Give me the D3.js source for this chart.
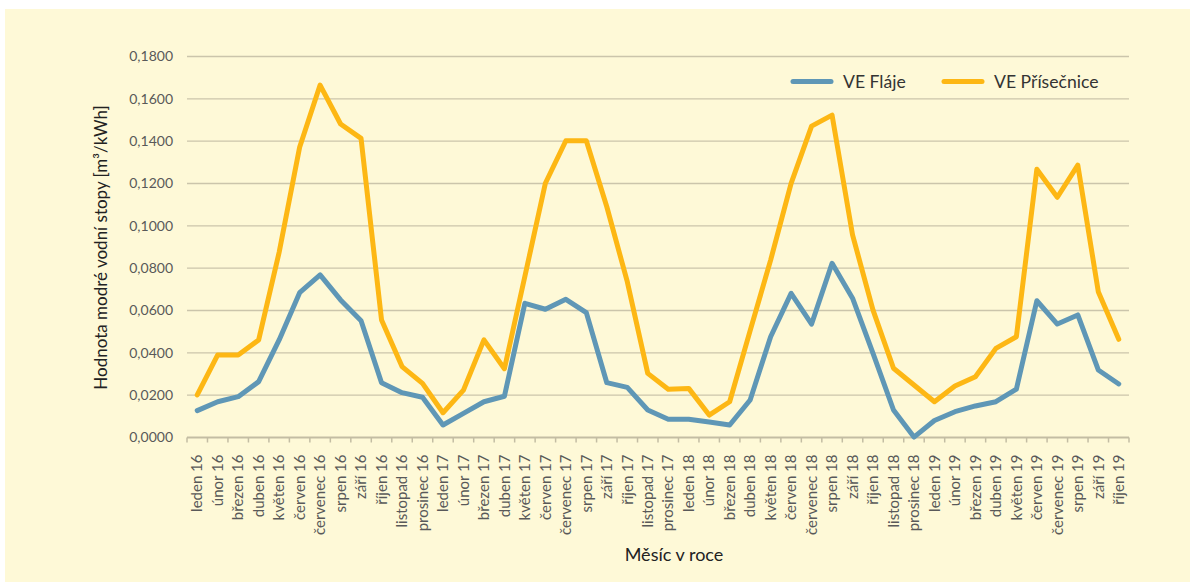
<!DOCTYPE html>
<html lang="cs">
<head>
<meta charset="utf-8">
<script src="https://cdn.jsdelivr.net/npm/d3@7"></script>
<style>
  html, body { margin: 0; padding: 0; background: #ffffff; }
  svg { display: block; font-family: Lato, "Noto Sans", sans-serif; }
</style>
</head>
<body>
<svg id="chart" width="1195" height="586"></svg>
<script>
// Měsíce sledovaného období (leden 2016 – říjen 2019)
const months = [
  "leden 16","únor 16","březen 16","duben 16","květen 16","červen 16","červenec 16","srpen 16","září 16","říjen 16","listopad 16","prosinec 16",
  "leden 17","únor 17","březen 17","duben 17","květen 17","červen 17","červenec 17","srpen 17","září 17","říjen 17","listopad 17","prosinec 17",
  "leden 18","únor 18","březen 18","duben 18","květen 18","červen 18","červenec 18","srpen 18","září 18","říjen 18","listopad 18","prosinec 18",
  "leden 19","únor 19","březen 19","duben 19","květen 19","červen 19","červenec 19","srpen 19","září 19","říjen 19"
];

// Modrá vodní stopa [m³/kWh]
const flaje = [
  0.0127, 0.0169, 0.0193, 0.0264, 0.0461, 0.0684, 0.0768, 0.0650, 0.0552, 0.0259, 0.0212, 0.0190,
  0.0059, 0.0114, 0.0169, 0.0195, 0.0634, 0.0606, 0.0653, 0.0590, 0.0259, 0.0237, 0.0130, 0.0086,
  0.0086, 0.0073, 0.0059, 0.0177, 0.0476, 0.0681, 0.0536, 0.0823, 0.0658, 0.0398, 0.0130, 0.0002,
  0.0080, 0.0122, 0.0149, 0.0169, 0.0228, 0.0646, 0.0536, 0.0579, 0.0319, 0.0253
];
const prisecnice = [
  0.0201, 0.0390, 0.0390, 0.0461, 0.0875, 0.1371, 0.1665, 0.1481, 0.1413, 0.0555, 0.0335, 0.0256,
  0.0117, 0.0224, 0.0461, 0.0325, 0.0762, 0.1201, 0.1402, 0.1402, 0.1090, 0.0736, 0.0303, 0.0228,
  0.0232, 0.0106, 0.0169, 0.0505, 0.0838, 0.1201, 0.1471, 0.1523, 0.0957, 0.0602, 0.0327, 0.0248,
  0.0169, 0.0243, 0.0287, 0.0421, 0.0476, 0.1267, 0.1135, 0.1287, 0.0689, 0.0464
];

const seriesNames = ["VE Fláje", "VE Přísečnice"];
const seriesColors = ["#5f97b6", "#fdb714"];
const yTicks = [0, 0.02, 0.04, 0.06, 0.08, 0.10, 0.12, 0.14, 0.16, 0.18];

const yTitle = "Hodnota modré vodní stopy [m³/kWh]";
const xTitle = "Měsíc v roce";

const W = 1195, H = 586;
const margin = { top: 56.5, right: 66, bottom: 148.5, left: 187 };
const innerW = W - margin.left - margin.right;
const innerH = H - margin.top - margin.bottom;

const svg = d3.select("#chart");

// pozadí
svg.append("rect")
  .attr("x", 5).attr("y", 9)
  .attr("width", 1185).attr("height", 573)
  .attr("fill", "#fef9d7");

const g = svg.append("g").attr("transform", `translate(${margin.left},${margin.top})`);

const x = d3.scaleBand().domain(months).range([0, innerW]).padding(0);
const y = d3.scaleLinear().domain([0, 0.18]).range([innerH, 0]);

const fmt = v => d3.format(".4f")(v).replace(".", ",");

// mřížka
g.append("g")
  .selectAll("line")
  .data(yTicks.filter(t => t > 0))
  .join("line")
  .attr("x1", 0).attr("x2", innerW)
  .attr("y1", d => y(d)).attr("y2", d => y(d))
  .attr("stroke", "#cbc5ab").attr("stroke-width", 1.3);

// osa Y – popisky
const yAxis = g.append("g")
  .call(d3.axisLeft(y).tickValues(yTicks).tickFormat(fmt).tickSize(0).tickPadding(14));
yAxis.select(".domain").remove();
yAxis.selectAll("text")
  .attr("fill", "#595959")
  .style("font-size", "14px")
  .style("font-family", "Lato, sans-serif");

// osa X
const xAxisG = g.append("g").attr("transform", `translate(0,${innerH})`);
xAxisG.append("line")
  .attr("x1", 0).attr("x2", innerW)
  .attr("y1", 0).attr("y2", 0)
  .attr("stroke", "#c3bda3").attr("stroke-width", 2);

const boundaries = months.map(m => x(m)).concat([x(months[months.length - 1]) + x.bandwidth()]);
xAxisG.selectAll("line.tick")
  .data(boundaries)
  .join("line")
  .attr("class", "tick")
  .attr("x1", d => d).attr("x2", d => d)
  .attr("y1", 0).attr("y2", 5)
  .attr("stroke", "#c3bda3").attr("stroke-width", 1.5);

xAxisG.selectAll("text")
  .data(months)
  .join("text")
  .attr("transform", d => `translate(${x(d) + x.bandwidth() / 2},17) rotate(-90)`)
  .attr("text-anchor", "end")
  .attr("dy", "0.35em")
  .attr("fill", "#595959")
  .style("font-size", "15px")
  .text(d => d);

// čáry řad
const line = d3.line()
  .x((d, i) => x(months[i]) + x.bandwidth() / 2)
  .y(d => y(d));

[flaje, prisecnice].forEach((data, k) => {
  g.append("path")
    .datum(data)
    .attr("d", line)
    .attr("fill", "none")
    .attr("stroke", seriesColors[k])
    .attr("stroke-width", 5)
    .attr("stroke-linejoin", "round")
    .attr("stroke-linecap", "round");
});

// legenda
const legendX = [793, 944];
const legend = svg.append("g");
seriesNames.forEach((name, k) => {
  legend.append("line")
    .attr("x1", legendX[k]).attr("x2", legendX[k] + 38)
    .attr("y1", 81.5).attr("y2", 81.5)
    .attr("stroke", seriesColors[k]).attr("stroke-width", 5)
    .attr("stroke-linecap", "round");
  legend.append("text")
    .attr("x", legendX[k] + 50).attr("y", 87.5)
    .attr("fill", "#333333")
    .style("font-size", "17.6px")
    .text(name);
});

// názvy os
svg.append("text")
  .attr("transform", `translate(107,247.5) rotate(-90)`)
  .attr("text-anchor", "middle")
  .attr("fill", "#222222")
  .style("font-size", "17px")
  .text(yTitle);

svg.append("text")
  .attr("x", 674).attr("y", 560.5)
  .attr("text-anchor", "middle")
  .attr("fill", "#222222")
  .style("font-size", "18px")
  .text(xTitle);
</script>
</body>
</html>
